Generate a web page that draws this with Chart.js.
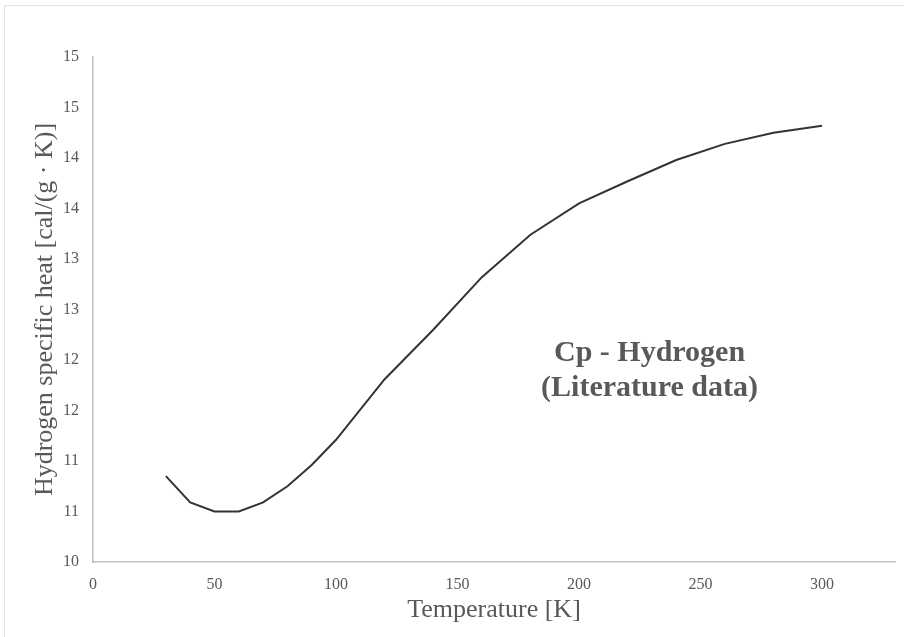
<!DOCTYPE html>
<html>
<head>
<meta charset="utf-8">
<script src="https://cdn.jsdelivr.net/npm/chart.js@4.4.1/dist/chart.umd.min.js"></script>
<style>
  html, body { margin: 0; padding: 0; background: #fff; }
  #frame { position: absolute; left: 4px; top: 5px; width: 900px; height: 632px; border-left: 1px solid #e3e3e3; border-top: 1px solid #e3e3e3; }
  #wrap { position: absolute; left: 0; top: 0; width: 904px; height: 637px; }
</style>
</head>
<body>
<div id="frame"></div>
<div id="wrap"><canvas id="cp"></canvas></div>
<script>
// Hydrogen Cp vs temperature, literature values
const temperatures = [30, 40, 50, 60, 70, 80, 90, 100, 120, 140, 160, 180, 200, 220, 240, 260, 280, 300];
const specificHeat = [10.85, 10.59, 10.50, 10.50, 10.59, 10.75, 10.96, 11.21, 11.81, 12.30, 12.82, 13.24, 13.55, 13.77, 13.98, 14.14, 14.25, 14.32];
const yTicks = { min: 10, max: 15, step: 0.5 };
const xTicks = { min: 0, max: 330, step: 50, last: 300 };
const noteLines = ['Cp - Hydrogen', '(Literature data)'];

const GREY = '#595959';
const SERIF = "'Liberation Serif', 'Times New Roman', serif";

const points = temperatures.map((t, i) => ({ x: t, y: specificHeat[i] }));

const noteLabel = {
  id: 'noteLabel',
  afterDraw(chart) {
    const { ctx, scales } = chart;
    const cx = scales.x.getPixelForValue(229);
    const cy = scales.y.getPixelForValue(12.07);
    ctx.save();
    ctx.fillStyle = GREY;
    ctx.font = `bold 30px ${SERIF}`;
    ctx.textAlign = 'center';
    ctx.textBaseline = 'middle';
    ctx.fillText(noteLines[0], cx, cy);
    ctx.fillText(noteLines[1], cx, cy + 35);
    ctx.restore();
  }
};

new Chart(document.getElementById('cp'), {
  type: 'line',
  data: {
    datasets: [{
      data: points,
      borderColor: '#333333',
      borderWidth: 2,
      pointRadius: 0,
      tension: 0,
      fill: false
    }]
  },
  options: {
    responsive: true,
    maintainAspectRatio: false,
    animation: false,
    layout: { padding: { top: 57, right: 9, bottom: 0, left: 0 } },
    plugins: { legend: { display: false }, tooltip: { enabled: false } },
    scales: {
      x: {
        type: 'linear',
        min: xTicks.min,
        max: xTicks.max,
        grid: { display: false, drawTicks: false },
        border: { display: true, color: '#bfbfbf', width: 1.5 },
        ticks: {
          stepSize: xTicks.step,
          includeBounds: false,
          maxRotation: 0,
          padding: 13,
          color: GREY,
          font: { family: SERIF, size: 16 },
          callback: (v) => (v <= xTicks.last ? v : '')
        },
        title: {
          display: true,
          text: 'Temperature [K]',
          color: GREY,
          font: { family: SERIF, size: 26, lineHeight: 1.2 },
          padding: { top: 0, bottom: 11 }
        },
        afterFit: (scale) => { scale.height = 75; }
      },
      y: {
        min: yTicks.min,
        max: yTicks.max,
        grid: { display: false, drawTicks: false },
        border: { display: true, color: '#bfbfbf', width: 1.5 },
        ticks: {
          stepSize: yTicks.step,
          padding: 14,
          color: GREY,
          font: { family: SERIF, size: 16 },
          callback: (v) => Math.round(v)
        },
        title: {
          display: true,
          text: 'Hydrogen specific heat [cal/(g · K)]',
          color: GREY,
          font: { family: SERIF, size: 26, lineHeight: 1.2 },
          padding: { top: 30, bottom: 0 }
        },
        afterFit: (scale) => { scale.width = 93; }
      }
    }
  },
  plugins: [noteLabel]
});
</script>
</body>
</html>
